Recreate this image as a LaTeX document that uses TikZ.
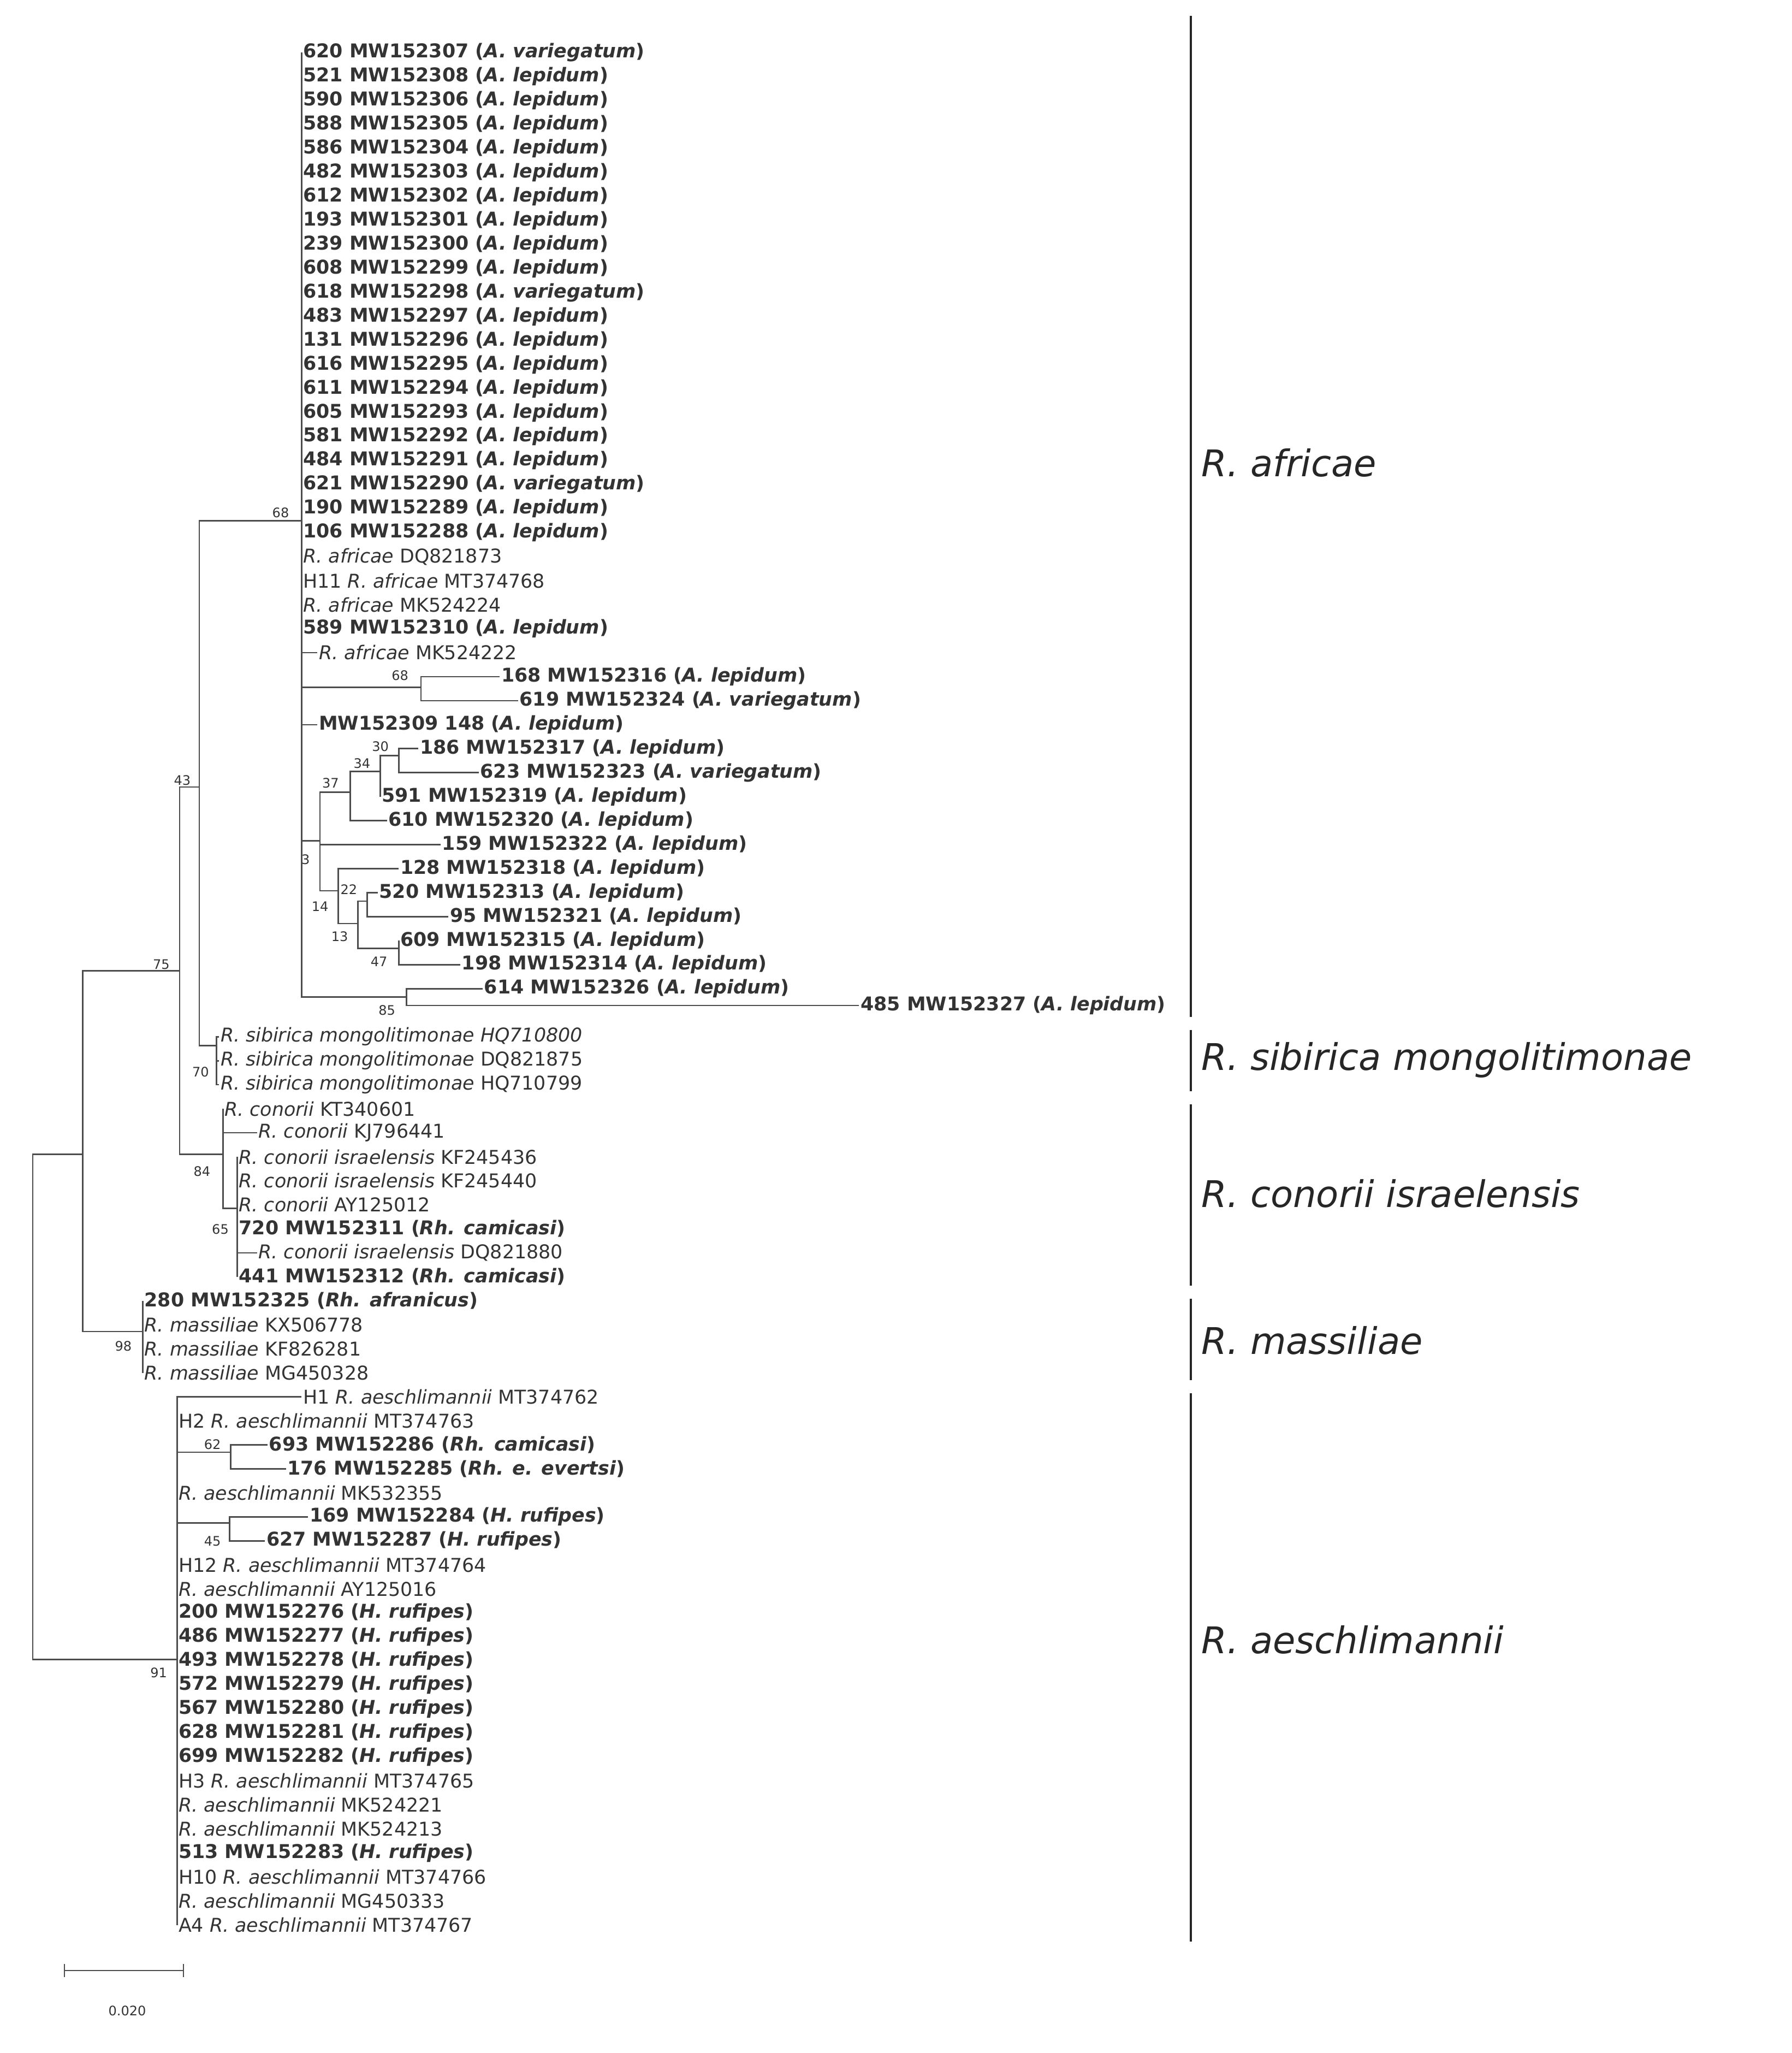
\documentclass[tikz,border=0pt]{standalone}
\usepackage{fontspec}
\setmainfont{DejaVu Sans}
\begin{document}
\begin{tikzpicture}[x=1pt,y=-1pt,
  leaf/.style={anchor=west,inner sep=1pt,font=\fontsize{14.5}{16}\selectfont,text=black!80},
  bs/.style={inner sep=0pt,font=\fontsize{10}{11}\selectfont,text=black!80},
  br/.style={draw=black!70,line width=1.1pt},
  clade/.style={anchor=west,inner sep=0pt,font=\fontsize{28}{30}\selectfont\itshape,text=black!85}]
\useasboundingbox (0,0) rectangle (1366,1565);
\newcommand\lf[4]{\node[leaf] (#1) at (#2,{40+(#3-1)*18.3}) {#4};}
\newcommand\bl[3]{\textbf{#1 MW#2 (\textit{#3})}}
\newcommand\rl[2]{\textit{#1} #2}
% ---- internal nodes
\coordinate (root) at (25,1070);
\coordinate (n63) at (63,880);
\coordinate (n75) at (137,740);
\coordinate (n43) at (152,600);
\coordinate (c68) at (230,397);
\coordinate (n68b) at (321,524);
\coordinate (n3) at (244,641);
\coordinate (n37) at (267,604);
\coordinate (n34) at (290,588);
\coordinate (n30) at (304,576);
\coordinate (n14) at (258,679);
\coordinate (n13) at (273,704);
\coordinate (n22) at (280,687);
\coordinate (n47) at (304,723);
\coordinate (n85) at (310,760);
\coordinate (n70) at (165,797);
\coordinate (n84) at (170,880);
\coordinate (n65) at (181,921);
\coordinate (n98) at (109,1015);
\coordinate (n91) at (135,1265);
\coordinate (n62) at (176,1107);
\coordinate (n45) at (175,1161);
% ---- leaves: africae
\lf{a1}{230}{1}{\bl{620}{152307}{A. variegatum}}
\lf{a2}{230}{2}{\bl{521}{152308}{A. lepidum}}
\lf{a3}{230}{3}{\bl{590}{152306}{A. lepidum}}
\lf{a4}{230}{4}{\bl{588}{152305}{A. lepidum}}
\lf{a5}{230}{5}{\bl{586}{152304}{A. lepidum}}
\lf{a6}{230}{6}{\bl{482}{152303}{A. lepidum}}
\lf{a7}{230}{7}{\bl{612}{152302}{A. lepidum}}
\lf{a8}{230}{8}{\bl{193}{152301}{A. lepidum}}
\lf{a9}{230}{9}{\bl{239}{152300}{A. lepidum}}
\lf{a10}{230}{10}{\bl{608}{152299}{A. lepidum}}
\lf{a11}{230}{11}{\bl{618}{152298}{A. variegatum}}
\lf{a12}{230}{12}{\bl{483}{152297}{A. lepidum}}
\lf{a13}{230}{13}{\bl{131}{152296}{A. lepidum}}
\lf{a14}{230}{14}{\bl{616}{152295}{A. lepidum}}
\lf{a15}{230}{15}{\bl{611}{152294}{A. lepidum}}
\lf{a16}{230}{16}{\bl{605}{152293}{A. lepidum}}
\lf{a17}{230}{17}{\bl{581}{152292}{A. lepidum}}
\lf{a18}{230}{18}{\bl{484}{152291}{A. lepidum}}
\lf{a19}{230}{19}{\bl{621}{152290}{A. variegatum}}
\lf{a20}{230}{20}{\bl{190}{152289}{A. lepidum}}
\lf{a21}{230}{21}{\bl{106}{152288}{A. lepidum}}
\lf{a22}{230}{22}{\rl{R. africae}{DQ821873}}
\lf{a23}{230}{23}{H11 \rl{R. africae}{MT374768}}
\lf{a24}{230}{24}{\rl{R. africae}{MK524224}}
\lf{a25}{230}{25}{\bl{589}{152310}{A. lepidum}}
\lf{a26}{242}{26}{\rl{R. africae}{MK524222}}
\lf{a27}{381}{27}{\bl{168}{152316}{A. lepidum}}
\lf{a28}{395}{28}{\bl{619}{152324}{A. variegatum}}
\lf{a29}{242}{29}{\textbf{MW152309 148 (\textit{A. lepidum})}}
\lf{a30}{319}{30}{\bl{186}{152317}{A. lepidum}}
\lf{a31}{365}{31}{\bl{623}{152323}{A. variegatum}}
\lf{a32}{290}{32}{\bl{591}{152319}{A. lepidum}}
\lf{a33}{295}{33}{\bl{610}{152320}{A. lepidum}}
\lf{a34}{336}{34}{\bl{159}{152322}{A. lepidum}}
\lf{a35}{304}{35}{\bl{128}{152318}{A. lepidum}}
\lf{a36}{288}{36}{\bl{520}{152313}{A. lepidum}}
\lf{a37}{342}{37}{\bl{95}{152321}{A. lepidum}}
\lf{a38}{304}{38}{\bl{609}{152315}{A. lepidum}}
\lf{a39}{351}{39}{\bl{198}{152314}{A. lepidum}}
\lf{a40}{368}{40}{\bl{614}{152326}{A. lepidum}}
\lf{a41}{655}{40.7}{\bl{485}{152327}{A. lepidum}}
% sibirica
\lf{s1}{167}{42}{\textit{R. sibirica mongolitimonae HQ710800}}
\lf{s2}{167}{43}{\rl{R. sibirica mongolitimonae}{DQ821875}}
\lf{s3}{167}{44}{\rl{R. sibirica mongolitimonae}{HQ710799}}
% conorii
\lf{c1}{170}{45}{\rl{R. conorii}{KT340601}}
\lf{c2}{196}{46}{\rl{R. conorii}{KJ796441}}
\lf{c3}{181}{47}{\rl{R. conorii israelensis}{KF245436}}
\lf{c4}{181}{48}{\rl{R. conorii israelensis}{KF245440}}
\lf{c5}{181}{49}{\rl{R. conorii}{AY125012}}
\lf{c6}{181}{50}{\bl{720}{152311}{Rh. camicasi}}
\lf{c7}{196}{51}{\rl{R. conorii israelensis}{DQ821880}}
\lf{c8}{181}{52}{\bl{441}{152312}{Rh. camicasi}}
% massiliae
\lf{m1}{109}{53}{\bl{280}{152325}{Rh. afranicus}}
\lf{m2}{109}{54}{\rl{R. massiliae}{KX506778}}
\lf{m3}{109}{55}{\rl{R. massiliae}{KF826281}}
\lf{m4}{109}{56}{\rl{R. massiliae}{MG450328}}
% aeschlimannii
\lf{e1}{230}{57}{H1 \rl{R. aeschlimannii}{MT374762}}
\lf{e2}{135}{58}{H2 \rl{R. aeschlimannii}{MT374763}}
\lf{e3}{204}{59}{\bl{693}{152286}{Rh. camicasi}}
\lf{e4}{218}{60}{\bl{176}{152285}{Rh. e. evertsi}}
\lf{e5}{135}{61}{\rl{R. aeschlimannii}{MK532355}}
\lf{e6}{235}{62}{\bl{169}{152284}{H. rufipes}}
\lf{e7}{202}{63}{\bl{627}{152287}{H. rufipes}}
\lf{e8}{135}{64}{H12 \rl{R. aeschlimannii}{MT374764}}
\lf{e9}{135}{65}{\rl{R. aeschlimannii}{AY125016}}
\lf{e10}{135}{66}{\bl{200}{152276}{H. rufipes}}
\lf{e11}{135}{67}{\bl{486}{152277}{H. rufipes}}
\lf{e12}{135}{68}{\bl{493}{152278}{H. rufipes}}
\lf{e13}{135}{69}{\bl{572}{152279}{H. rufipes}}
\lf{e14}{135}{70}{\bl{567}{152280}{H. rufipes}}
\lf{e15}{135}{71}{\bl{628}{152281}{H. rufipes}}
\lf{e16}{135}{72}{\bl{699}{152282}{H. rufipes}}
\lf{e17}{135}{73}{H3 \rl{R. aeschlimannii}{MT374765}}
\lf{e18}{135}{74}{\rl{R. aeschlimannii}{MK524221}}
\lf{e19}{135}{75}{\rl{R. aeschlimannii}{MK524213}}
\lf{e20}{135}{76}{\bl{513}{152283}{H. rufipes}}
\lf{e21}{135}{77}{H10 \rl{R. aeschlimannii}{MT374766}}
\lf{e22}{135}{78}{\rl{R. aeschlimannii}{MG450333}}
\lf{e23}{135}{79}{A4 \rl{R. aeschlimannii}{MT374767}}
% ---- branches
\draw[br] (root) |- (n63); \draw[br] (root) |- (n91);
\draw[br] (n63) |- (n75); \draw[br] (n63) |- (n98);
\draw[br] (n75) |- (n43); \draw[br] (n75) |- (n84);
\draw[br] (n43) |- (c68); \draw[br] (n43) |- (n70);
\foreach \i in {1,...,26,29} {\draw[br] (c68) |- (a\i.west);}
\draw[br] (c68) |- (n68b); \draw[br] (c68) |- (n3); \draw[br] (c68) |- (n85);
\draw[br] (n68b) |- (a27.west); \draw[br] (n68b) |- (a28.west);
\draw[br] (n3) |- (n37); \draw[br] (n3) |- (a34.west); \draw[br] (n3) |- (n14);
\draw[br] (n37) |- (n34); \draw[br] (n37) |- (a33.west);
\draw[br] (n34) |- (n30); \draw[br] (n34) |- (a32.west);
\draw[br] (n30) |- (a30.west); \draw[br] (n30) |- (a31.west);
\draw[br] (n14) |- (a35.west); \draw[br] (n14) |- (n13);
\draw[br] (n13) |- (n22); \draw[br] (n13) |- (n47);
\draw[br] (n22) |- (a36.west); \draw[br] (n22) |- (a37.west);
\draw[br] (n47) |- (a38.west); \draw[br] (n47) |- (a39.west);
\draw[br] (n85) |- (a40.west); \draw[br] (n85) |- (a41.west);
\foreach \i in {1,2,3} {\draw[br] (n70) |- (s\i.west);}
\draw[br] (n84) |- (c1.west); \draw[br] (n84) |- (c2.west); \draw[br] (n84) |- (n65);
\foreach \i in {3,...,8} {\draw[br] (n65) |- (c\i.west);}
\foreach \i in {1,...,4} {\draw[br] (n98) |- (m\i.west);}
\foreach \i in {1,2,5,8,9,...,23} {\draw[br] (n91) |- (e\i.west);}
\draw[br] (n91) |- (n62); \draw[br] (n91) |- (n45);
\draw[br] (n62) |- (e3.west); \draw[br] (n62) |- (e4.west);
\draw[br] (n45) |- (e6.west); \draw[br] (n45) |- (e7.west);
% ---- bootstrap values
\node[bs] (b68) at (214,391) {68};
\node[bs] (b43) at (139,595) {43};
\node[bs] (b75) at (123,735) {75};
\node[bs] (b70) at (153,817) {70};
\node[bs] (b84) at (154,893) {84};
\node[bs] (b65) at (168,937) {65};
\node[bs] (b98) at (94,1026) {98};
\node[bs] (b91) at (121,1275) {91};
\node[bs] (b62) at (162,1101) {62};
\node[bs] (b45) at (162,1175) {45};
\node[bs] (b68b) at (305,515) {68};
\node[bs] (b30) at (290,569) {30};
\node[bs] (b34) at (276,582) {34};
\node[bs] (b37) at (252,597) {37};
\node[bs] (b3) at (233,655) {3};
\node[bs] (b22) at (266,678) {22};
\node[bs] (b14) at (244,691) {14};
\node[bs] (b13) at (259,714) {13};
\node[bs] (b47) at (289,733) {47};
\node[bs] (b85) at (295,770) {85};
% ---- scale bar
\draw[br,line width=0.9pt] (49,1502) -- (140,1502);
\draw[br,line width=0.9pt] (49,1497) -- (49,1507) (140,1497) -- (140,1507);
\node[bs] (scale) at (97,1533) {0.020};
% ---- clade bars
\draw[line width=1.5pt,black!85] (908,12) -- (908,775);
\draw[line width=1.5pt,black!85] (908,785) -- (908,832);
\draw[line width=1.5pt,black!85] (908,842) -- (908,980);
\draw[line width=1.5pt,black!85] (908,990) -- (908,1052);
\draw[line width=1.5pt,black!85] (908,1062) -- (908,1480);
\node[clade] (L1) at (916,353) {R. africae};
\node[clade] (L2) at (916,808) {R. sibirica mongolitimonae};
\node[clade] (L3) at (916,910) {R. conorii israelensis};
\node[clade] (L4) at (916,1022) {R. massiliae};
\node[clade] (L5) at (916,1250) {R. aeschlimannii};
\end{tikzpicture}
\end{document}
